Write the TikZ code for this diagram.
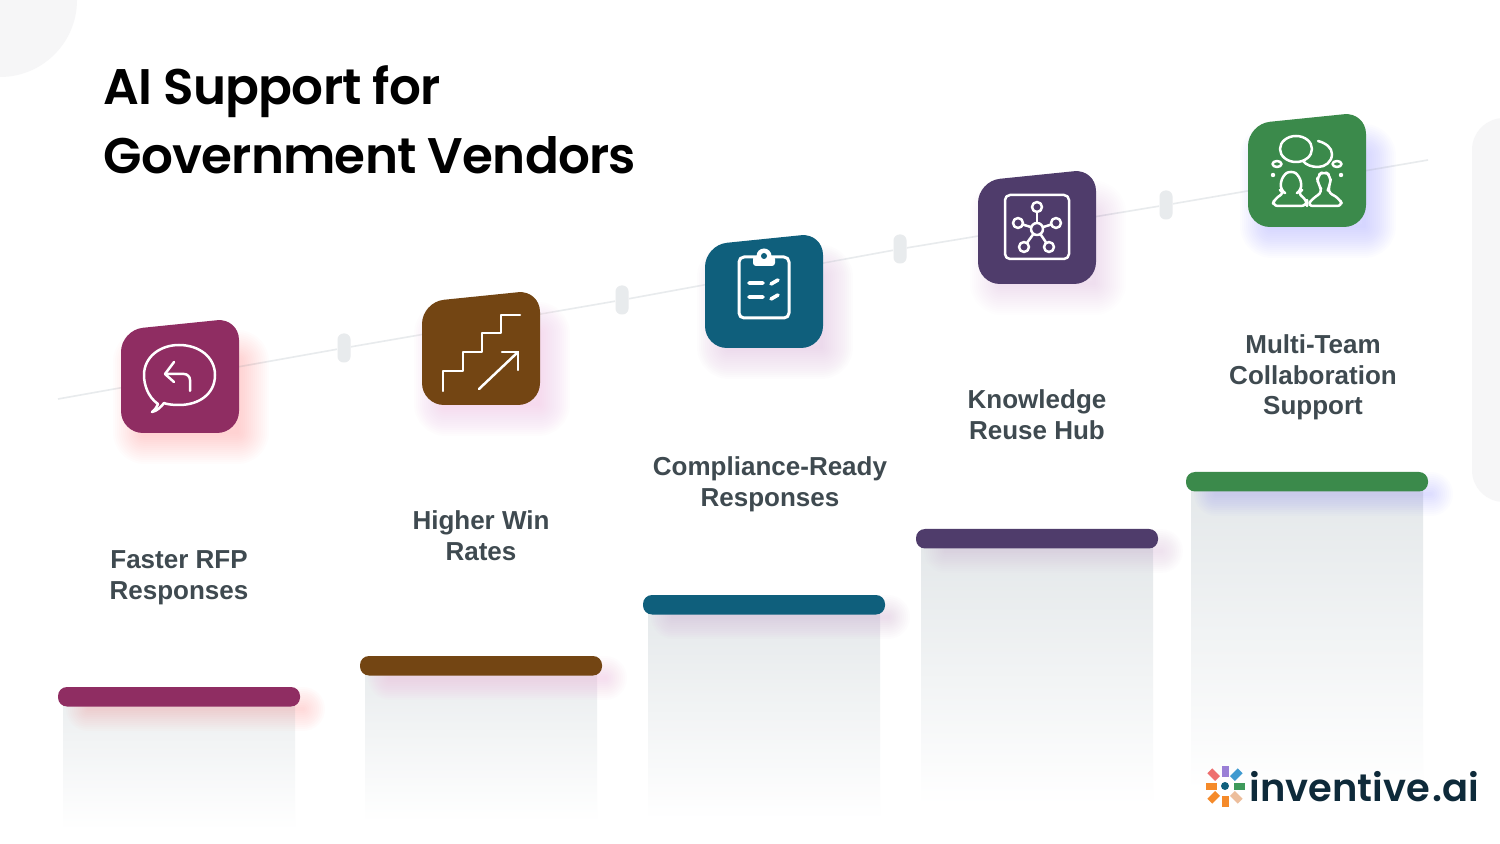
\documentclass[tikz,border=0pt]{standalone}
\usepackage{fontspec}
\usetikzlibrary{calc}
\setmainfont{Liberation Sans}
\newfontfamily\titlefont{Poppins SemiBold}[LetterSpace=-1.5]
\newfontfamily\labelfont{Liberation Sans}
\newfontfamily\logofont{Poppins SemiBold}
\definecolor{wine}{HTML}{8F2D62}
\definecolor{umber}{HTML}{734513}
\definecolor{petrol}{HTML}{0F5F7C}
\definecolor{plum}{HTML}{4F3C6B}
\definecolor{leaf}{HTML}{3B8A4B}
\definecolor{inktext}{HTML}{3F4A50}
\definecolor{railgray}{HTML}{E8EBED}
\definecolor{panelgray}{HTML}{F6F6F7}
\definecolor{logoink}{HTML}{0E2A3A}
\definecolor{bodygray}{HTML}{E4E8EA}
\tikzset{
  railtick/.style={fill=railgray, rounded corners=3pt, minimum width=6.5pt, minimum height=14.5pt, inner sep=0pt},
  steplabel/.style={font=\labelfont\bfseries\fontsize{13}{15.3}\selectfont, text=inktext, align=center},
  icon/.style={draw=white, line width=1.25pt, line cap=round, line join=round},
  petal/.style={minimum width=3.5pt, minimum height=5.5pt, inner sep=0pt},
  titleline/.style={anchor=base west, inner sep=0pt, font=\titlefont\fontsize{25}{30}\selectfont},
}
% soft glow: a stack of thin wide strokes under a shape
\newcommand{\softglow}[4]{% widest stroke, opacity, colour, path
  \foreach \w in {#1,\numexpr#1-4\relax,...,4}
    \draw[#3, opacity=#2, line width=\w*0.5pt, line join=round, line cap=round] #4;
}
\newcommand{\icontile}[5]{% left, top, fill, glow, name
  \softglow{64}{0.018}{#4}{(#1+24,#2+42) -- (#1+116,#2+42) -- (#1+116,#2+112) -- (#1+24,#2+112) -- cycle}
  \fill[#3, rounded corners=11pt] (#1,#2+10) -- (#1+118,#2-2) -- (#1+118,#2+113) -- (#1,#2+113) -- cycle;
  \coordinate (#5) at (#1+59,#2+56);
}
\newcommand{\stepbar}[7]{% left, top, body bottom, colour, glow, name, body tint
  \shade[top color=bodygray!#7!white, middle color=bodygray!#7!white, bottom color=white] (#1+5,#2+18) rectangle (#1+237,#3);
  \softglow{44}{0.022}{#5}{(#1+30,#2+22) -- (#1+245,#2+22)}
  \fill[#4, rounded corners=4.5pt] (#1,#2) rectangle (#1+242,#2+19.5);
  \coordinate (#6) at (#1+121,#2+10);
}
\begin{document}
\begin{tikzpicture}[x=0.5pt,y=-0.5pt]
\useasboundingbox (0,0) rectangle (1500,844);
\fill[white] (0,0) rectangle (1500,844);
\begin{scope}
\clip (0,0) rectangle (1500,844);
\fill[panelgray] (0,0) circle[radius=77];
\fill[panelgray, rounded corners=16pt] (1472,118) rectangle (1560,502);
\end{scope}
% rail
\coordinate (railstart) at (58,399);
\coordinate (railend) at (1428,160);
\node[railtick] (tick1) at (344,348) {};
\node[railtick] (tick2) at (622,300) {};
\node[railtick] (tick3) at (900,249) {};
\node[railtick] (tick4) at (1166,205) {};
\draw[railgray, line width=0.8pt] (railstart)--(tick1)--(tick2)--(tick3)--(tick4)--(railend);
% tiles
\icontile{121}{320}{wine}{red!55}{tile1}
\icontile{422}{292}{umber}{magenta!45}{tile2}
\icontile{705}{235}{petrol}{violet!45}{tile3}
\icontile{978}{171}{plum}{violet!40}{tile4}
\icontile{1248}{114}{leaf}{blue!50}{tile5}
% reply icon
\draw[icon] (158,404) .. controls (148,397) and (144,385) .. (144,375) .. controls (144,357) and (160,345) .. (179,345) .. controls (199,345) and (215,357) .. (215,375) .. controls (215,394) and (199,405) .. (179,405) .. controls (171,405) and (166,404) .. (164,403) .. controls (161,407) and (157,411) .. (152,412) .. controls (156,409) and (157,406) .. (158,404) -- cycle;
\draw[icon] (190,391) -- (190,380) [rounded corners=3pt] -- (190,374) -- (165,374);
\draw[icon] (174,362) -- (165,374) -- (174,382);
% stairs icon
\draw[icon] (443,391)--(443,371)--(463,371)--(463,352)--(482,352)--(482,333)--(501,333)--(501,315)--(520,315);
\draw[icon] (479,389)--(518,352);
\draw[icon] (502,352)--(518,352)--(518,370);
% clipboard icon
\draw[icon, line width=1.5pt, rounded corners=2.5pt] (739,257) rectangle (789,318);
\fill[white, rounded corners=1.5pt] (753,256) rectangle (775,266);
\fill[white] (764,256) circle[radius=7.5];
\fill[petrol] (764,256) circle[radius=3];
\draw[icon, line width=1.8pt] (749,283)--(763,283) (749,297)--(763,297) (771,284)--(778,280) (771,299)--(778,295);
% hub icon
\draw[icon, rounded corners=2.5pt] (1005,195) rectangle (1069,259);
\coordinate (hubcentre) at (1037,229);
\foreach \hx/\hy in {1037/207,1018/223,1056/223,1024/247,1049/247}{
  \draw[icon] (hubcentre) -- (\hx,\hy);
  \fill[plum] (\hx,\hy) circle[radius=5];
  \draw[icon] (\hx,\hy) circle[radius=5];
}
\fill[plum] (hubcentre) circle[radius=6];
\draw[icon] (hubcentre) circle[radius=6];
% people icon
\draw[icon] (1318,141) .. controls (1326,143) and (1332,148) .. (1332,154) .. controls (1332,162) and (1325,167) .. (1318,167) .. controls (1312,167) and (1306,165) .. (1303,161);
\draw[icon] (1296,149) ellipse[x radius=16, y radius=13];
\draw[icon] (1277,164) ellipse[x radius=4.5, y radius=3];
\draw[icon] (1337,164) ellipse[x radius=4.5, y radius=3];
\fill[white] (1273,175) circle[radius=2.2] (1341,175) circle[radius=2.2];
\draw[icon, rounded corners=3pt] (1272,206) -- (1275,198) -- (1285,193) -- (1280,190) -- (1282,176) -- (1291,170) -- (1300,176) -- (1302,190) -- (1297,193) -- (1307,200) -- (1307,206) -- cycle;
\draw[icon, rounded corners=3pt] (1307,206) -- (1313,198) -- (1323,192) -- (1318,184) -- (1317,176) -- (1324,171) -- (1331,176) -- (1330,185) -- (1327,192) -- (1339,198) -- (1343,206) -- cycle;
% labels
\node[steplabel] (label1) at (179,577.5) {Faster RFP\\Responses};
\node[steplabel] (label2) at (481,535.5) {Higher Win\\Rates};
\node[steplabel] (label3) at (770,484.5) {Compliance-Ready\\Responses};
\node[steplabel] (label4) at (1037,414.5) {Knowledge\\Reuse Hub};
\node[steplabel] (label5) at (1313,377.5) {Multi-Team\\Collaboration\\Support};
% bars
\stepbar{58}{687}{830}{wine}{red!55}{bar1}{70}
\stepbar{360}{656}{822}{umber}{magenta!45}{bar2}{80}
\stepbar{643}{595}{820}{petrol}{violet!45}{bar3}{95}
\stepbar{916}{529}{805}{plum}{violet!40}{bar4}{100}
\stepbar{1186}{472}{790}{leaf}{blue!50}{bar5}{100}
% title
\node[titleline] (titletop) at (103,105) {AI Support for};
\node[titleline] (titlebottom) at (103,174) {Government Vendors};
% logo
\coordinate (logomark) at (1225,786);
\foreach \a/\r/\c in {-90/15/9A7FD6,-45/16/3F9AD0,0/14/3E9A5B,45/16/EDBE9C,90/15/F58A2A,135/16/F58A2A,180/14/F58A2A,-135/16/EE6F6F}{
  \definecolor{petalcol}{HTML}{\c}
  \node[petal, fill=petalcol, rotate=90-\a] (petal\a) at ($(logomark)+(\a:\r)$) {};
}
\fill[petrol] (logomark) circle[radius=4];
\node[anchor=base west, inner sep=0pt, text=logoink, font=\logofont\fontsize{19.2}{24}\selectfont] (logotext) at (1249,801) {\spaceskip=1.5pt inventive .ai};
\end{tikzpicture}
\end{document}
